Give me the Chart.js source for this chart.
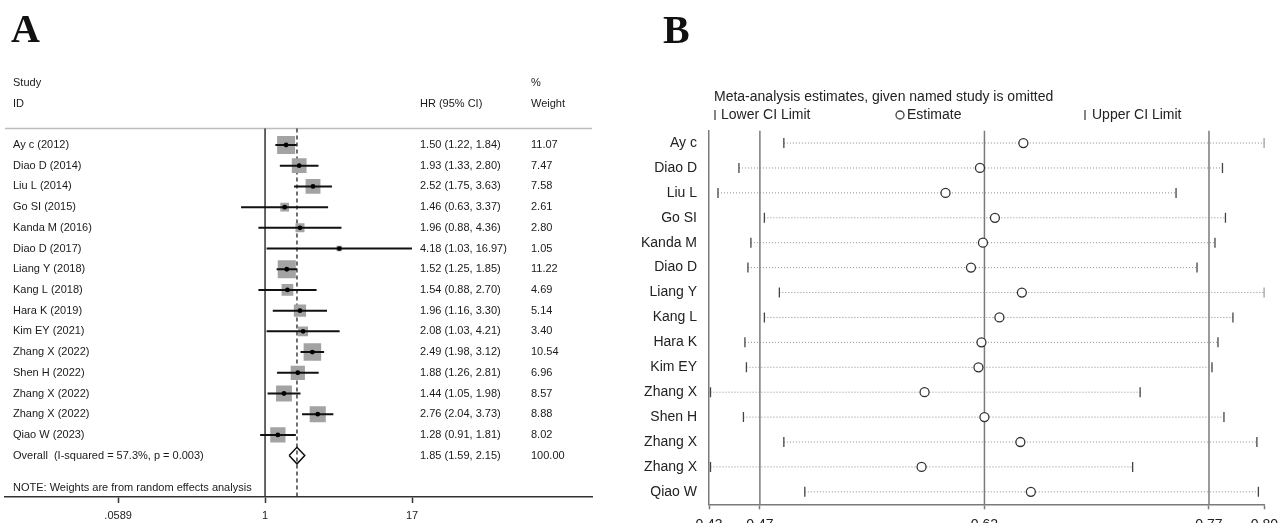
<!DOCTYPE html>
<html>
<head>
<meta charset="utf-8">
<script src="https://cdn.jsdelivr.net/npm/chart.js@4.4.0/dist/chart.umd.min.js"></script>
<style>
  body { margin: 0; background: #fff; }
  #wrap { position: relative; width: 1285px; height: 523px; overflow: hidden; background: #fff; }
  canvas { position: absolute; top: 0; }
  .tag { position: absolute; font: bold 40px "Liberation Serif", "Times New Roman", serif; line-height: 40px; color: #111; }
</style>
</head>
<body>
<div id="wrap">
  <canvas id="forest" width="640" height="523" style="left:0"></canvas>
  <canvas id="influence" width="645" height="523" style="left:640px"></canvas>
  <div class="tag" style="left:11px;top:9px">A</div>
  <div class="tag" style="left:663px;top:10px">B</div>
</div>
<script>
Chart.defaults.font.family = '"Liberation Sans", Arial, sans-serif';
Chart.defaults.color = '#222';
Chart.defaults.animation = false;

// ---- panel A : forest plot ----
let studyIds = ['Ay c (2012)', 'Diao D (2014)', 'Liu L (2014)', 'Go SI (2015)', 'Kanda M (2016)',
  'Diao D (2017)', 'Liang Y (2018)', 'Kang L (2018)', 'Hara K (2019)', 'Kim EY (2021)',
  'Zhang X (2022)', 'Shen H (2022)', 'Zhang X (2022)', 'Zhang X (2022)', 'Qiao W (2023)'];
let hr     = [1.50, 1.93, 2.52, 1.46, 1.96, 4.18, 1.52, 1.54, 1.96, 2.08, 2.49, 1.88, 1.44, 2.76, 1.28];
let hrLow  = [1.22, 1.33, 1.75, 0.63, 0.88, 1.03, 1.25, 0.88, 1.16, 1.03, 1.98, 1.26, 1.05, 2.04, 0.91];
let hrHigh = [1.84, 2.80, 3.63, 3.37, 4.36, 16.97, 1.85, 2.70, 3.30, 4.21, 3.12, 2.81, 1.98, 3.73, 1.81];
let weights = [11.07, 7.47, 7.58, 2.61, 2.80, 1.05, 11.22, 4.69, 5.14, 3.40, 10.54, 6.96, 8.57, 8.88, 8.02];
let overallHR = 1.85, overallLow = 1.59, overallHigh = 2.15, overallWeight = 100.00;
let overallLabel = 'Overall  (I-squared = 57.3%, p = 0.003)';
let noteLabel = 'NOTE: Weights are from random effects analysis';
let axisTicksA = [0.0589, 1, 17];
let axisLabelsA = ['.0589', '1', '17'];
let xMinA = 0.00666, xMaxA = 545;

let overallRow = studyIds.length + 1;
let noteRow = overallRow + 1.55;
let ruleRow = 0.2;   // grey line under the header
let bottomRow = 18;

// pointStyle 'rect' draws a square of side r*sqrt(2); square area follows the weight
function squareRadius(w) { return 5.4 * Math.sqrt(w || 0) / Math.SQRT2; }

function segment(x1, y1, x2, y2) { return [{x: x1, y: y1}, {x: x2, y: y2}]; }

let forestSets = [];
forestSets.push({ data: segment(1, ruleRow, 1, bottomRow), showLine: true, borderColor: '#333', borderWidth: 1.5, pointRadius: 0, order: 9 });
forestSets.push({ data: segment(overallHR, ruleRow, overallHR, bottomRow), showLine: true, borderColor: '#222', borderWidth: 1.3, borderDash: [4, 3], pointRadius: 0, order: 9 });
forestSets.push({ data: segment(xMinA, ruleRow, xMaxA, ruleRow), showLine: true, borderColor: '#bdbdbd', borderWidth: 1.5, pointRadius: 0, order: 9 });
forestSets.push({
  data: hr.map((v, i) => ({x: v, y: i + 1})),
  pointStyle: 'rect',
  pointRadius: ctx => squareRadius(weights[ctx.dataIndex]),
  backgroundColor: '#a3a3a3', borderWidth: 0, order: 5
});
studyIds.forEach((s, i) => {
  forestSets.push({ data: segment(hrLow[i], i + 1, hrHigh[i], i + 1), showLine: true, borderColor: '#111', borderWidth: 2, pointRadius: 0, order: 3 });
});
forestSets.push({ data: hr.map((v, i) => ({x: v, y: i + 1})), pointRadius: 2.4, backgroundColor: '#000', borderWidth: 0, order: 1 });
forestSets.push({
  data: [
    {x: overallLow, y: overallRow}, {x: overallHR, y: overallRow - 0.4},
    {x: overallHigh, y: overallRow}, {x: overallHR, y: overallRow + 0.4},
    {x: overallLow, y: overallRow}
  ],
  showLine: true, borderColor: '#111', borderWidth: 1.5, pointRadius: 0, fill: false, order: 1
});

const forestText = {
  id: 'forestText',
  afterDraw(chart) {
    const ctx = chart.ctx, y = chart.scales.y;
    ctx.save();
    ctx.font = '11px "Liberation Sans", Arial, sans-serif';
    ctx.fillStyle = '#1a1a1a';
    ctx.textBaseline = 'middle';
    const put = (t, x, row) => ctx.fillText(t, x, y.getPixelForValue(row));
    put('Study', 13, -2); put('ID', 13, -1);
    put('HR (95% CI)', 420, -1);
    put('%', 531, -2); put('Weight', 531, -1);
    studyIds.forEach((s, i) => {
      put(s, 13, i + 1);
      put(hr[i].toFixed(2) + ' (' + hrLow[i].toFixed(2) + ', ' + hrHigh[i].toFixed(2) + ')', 420, i + 1);
      put(weights[i].toFixed(2), 531, i + 1);
    });
    put(overallLabel, 13, overallRow);
    put(overallHR.toFixed(2) + ' (' + overallLow.toFixed(2) + ', ' + overallHigh.toFixed(2) + ')', 420, overallRow);
    put(overallWeight.toFixed(2), 531, overallRow);
    put(noteLabel, 13, noteRow);
    ctx.restore();
  }
};

new Chart(document.getElementById('forest'), {
  type: 'scatter',
  data: { datasets: forestSets },
  options: {
    responsive: false,
    events: [],
    layout: { autoPadding: false, padding: { left: 5, right: 48, top: 62.2, bottom: 0 } },
    plugins: { legend: { display: false }, tooltip: { enabled: false } },
    scales: {
      x: {
        type: 'logarithmic', min: xMinA, max: xMaxA, bounds: 'data',
        afterBuildTicks: s => { s.ticks = axisTicksA.map(v => ({value: v})); },
        afterFit: s => { s.height = 26; },
        ticks: { callback: (v, i) => axisLabelsA[i], font: {size: 11}, color: '#222', padding: 6, autoSkip: false, maxRotation: 0 },
        grid: { drawOnChartArea: false, drawTicks: true, tickLength: 6, tickColor: '#333', tickWidth: 1.5 },
        border: { color: '#333', width: 1.5 }
      },
      y: { type: 'linear', reverse: true, min: -3, max: bottomRow, display: false }
    }
  },
  plugins: [forestText]
});

// ---- panel B : influence analysis ----
let omitted = ['Ay c', 'Diao D', 'Liu L', 'Go SI', 'Kanda M', 'Diao D', 'Liang Y', 'Kang L',
  'Hara K', 'Kim EY', 'Zhang X', 'Shen H', 'Zhang X', 'Zhang X', 'Qiao W'];
let estOmit = [0.646, 0.617, 0.594, 0.627, 0.619, 0.611, 0.645, 0.630, 0.618, 0.616, 0.580, 0.620, 0.644, 0.578, 0.651];
let lowOmit = [0.486, 0.456, 0.442, 0.473, 0.464, 0.462, 0.483, 0.473, 0.460, 0.461, 0.437, 0.459, 0.486, 0.437, 0.500];
let upOmit  = [0.807, 0.779, 0.748, 0.781, 0.774, 0.762, 0.807, 0.786, 0.776, 0.772, 0.724, 0.780, 0.802, 0.719, 0.803];
let pooledLines = [0.47, 0.62, 0.77];
let axisTicksB = [0.436, 0.47, 0.62, 0.77, 0.807];
let axisLabelsB = ['0.43', '0.47', '0.62', '0.77', '0.80'];
let titleB = 'Meta-analysis estimates, given named study is omitted';
let legendB = ['Lower CI Limit', 'Estimate', 'Upper CI Limit'];

let inflSets = [];
pooledLines.forEach(v => {
  inflSets.push({ data: segment(v, 0.5, v, omitted.length + 0.5), showLine: true, borderColor: '#7a7a7a', borderWidth: 1.5, pointRadius: 0, order: 9 });
});
omitted.forEach((s, i) => {
  inflSets.push({ data: segment(lowOmit[i], i + 1, upOmit[i], i + 1), showLine: true, borderColor: '#8c8c8c', borderWidth: 1, borderDash: [1, 2], pointRadius: 0, order: 6 });
});
inflSets.push({ data: lowOmit.map((v, i) => ({x: v, y: i + 1})), pointStyle: 'line', rotation: 90, pointRadius: 5, borderColor: '#444', borderWidth: 1.3, order: 3 });
inflSets.push({ data: upOmit.map((v, i) => ({x: v, y: i + 1})), pointStyle: 'line', rotation: 90, pointRadius: 5, borderColor: '#444', borderWidth: 1.3, order: 3 });
inflSets.push({ data: estOmit.map((v, i) => ({x: v, y: i + 1})), pointStyle: 'circle', pointRadius: 4.5, backgroundColor: '#fff', borderColor: '#333', borderWidth: 1.3, order: 1 });

const inflHead = {
  id: 'inflHead',
  afterDraw(chart) {
    const ctx = chart.ctx;
    ctx.save();
    ctx.font = '14px "Liberation Sans", Arial, sans-serif';
    ctx.fillStyle = '#222';
    ctx.textBaseline = 'middle';
    ctx.fillText(titleB, 74, 97);
    const ly = 115;
    ctx.strokeStyle = '#444';
    ctx.lineWidth = 1.3;
    ctx.beginPath(); ctx.moveTo(75, ly - 5); ctx.lineTo(75, ly + 5); ctx.stroke();
    ctx.fillText(legendB[0], 81, ly);
    ctx.beginPath(); ctx.arc(260, ly, 4, 0, Math.PI * 2); ctx.stroke();
    ctx.fillText(legendB[1], 267, ly);
    ctx.beginPath(); ctx.moveTo(445, ly - 5); ctx.lineTo(445, ly + 5); ctx.stroke();
    ctx.fillText(legendB[2], 452, ly);
    ctx.restore();
  }
};

new Chart(document.getElementById('influence'), {
  type: 'scatter',
  data: { datasets: inflSets },
  options: {
    responsive: false,
    events: [],
    layout: { autoPadding: false, padding: { left: 0, right: 20, top: 130.6, bottom: 0 } },
    plugins: { legend: { display: false }, tooltip: { enabled: false } },
    scales: {
      x: {
        type: 'linear', min: axisTicksB[0], max: axisTicksB[axisTicksB.length - 1],
        afterBuildTicks: s => { s.ticks = axisTicksB.map(v => ({value: v})); },
        afterFit: s => { s.height = 18.7; },
        ticks: { callback: (v, i) => axisLabelsB[i], font: {size: 14}, color: '#222', padding: 7, autoSkip: false, maxRotation: 0 },
        grid: { drawOnChartArea: false, drawTicks: true, tickLength: 5, tickColor: '#7a7a7a', tickWidth: 1.5 },
        border: { color: '#7a7a7a', width: 1.5 }
      },
      y: {
        type: 'linear', reverse: true, min: 0.5, max: omitted.length + 0.5,
        afterBuildTicks: s => { s.ticks = omitted.map((n, i) => ({value: i + 1})); },
        afterFit: s => { s.width = 69; s.paddingTop = 0; s.paddingBottom = 0; },
        ticks: { callback: (v, i) => omitted[i], font: {size: 14}, color: '#222', padding: 12, autoSkip: false },
        grid: { display: false, drawTicks: false },
        border: { color: '#7a7a7a', width: 1.5 }
      }
    }
  },
  plugins: [inflHead]
});
</script>
</body>
</html>
